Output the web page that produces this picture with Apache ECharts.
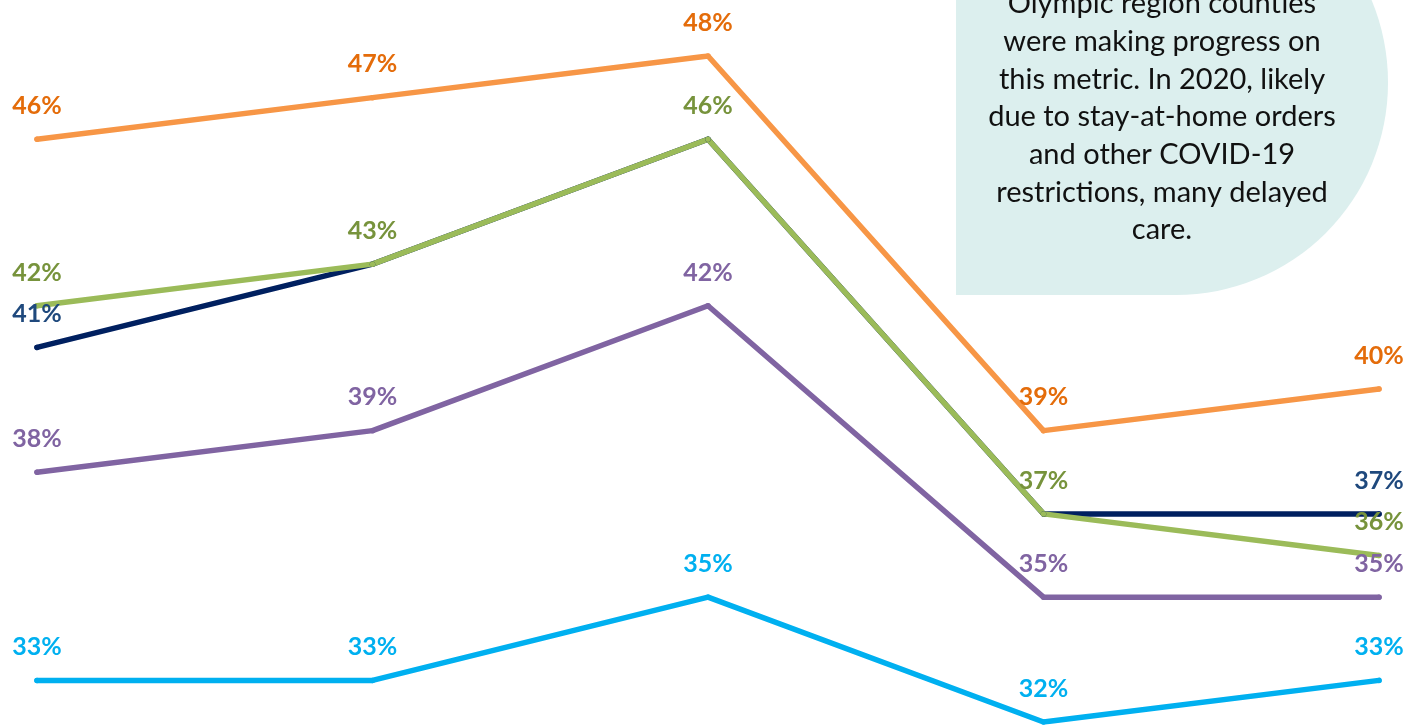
<!DOCTYPE html>
<html>
<head>
<meta charset="utf-8">
<title>Olympic region</title>
<script src="https://cdn.jsdelivr.net/npm/echarts@6/dist/echarts.min.js"></script>
<style>
  html, body { margin: 0; padding: 0; background: #fff; }
  #root { width: 1406px; height: 726px; }
</style>
</head>
<body>
<div id="root"></div>
<script>
// 类目（年份点位，图中未显示）
var years = ['2016', '2017', '2018', '2019', '2020'];

// 各条折线数值（%）
var orangeVals = [46, 47, 48, 39, 40];
var greenVals  = [42, 43, 46, 37, 36];
var navyVals   = [41, 43, 46, 37, 37];
var purpleVals = [38, 39, 42, 35, 35];
var cyanVals   = [33, 33, 35, 32, 33];

// 深蓝线哪些点显示标签（其余被绿线标签覆盖）
var navyLabelled = [true, false, false, false, true];

var noteLines = [
    'Olympic region counties',
    'were making progress on',
    'this metric. In 2020, likely',
    'due to stay-at-home orders',
    'and other COVID-19',
    'restrictions, many delayed',
    'care.'
];

var myChart = echarts.init(document.getElementById('root'));

function makeSeries(name, vals, lineColor, labelColor, shown) {
    var d = [];
    for (var i = 0; i < vals.length; i++) {
        var item = { value: vals[i] };
        if (shown && !shown[i]) item.label = { show: false };
        d.push(item);
    }
    return {
        name: name,
        type: 'line',
        data: d,
        symbol: 'circle',
        symbolSize: 5.5,
        showSymbol: true,
        itemStyle: { color: lineColor },
        lineStyle: { color: lineColor, width: 5.5, cap: 'round', join: 'round' },
        label: {
            show: true,
            position: 'top',
            distance: 18,
            color: labelColor,
            fontFamily: 'Lato',
            fontWeight: 'bold',
            fontSize: 25,
            formatter: function (p) { return p.value + '%'; }
        },
        animation: false,
        z: 3
    };
}

var option = {
    backgroundColor: '#ffffff',
    grid: { left: 37, right: 27, top: 56, bottom: 4 },
    xAxis: {
        type: 'category',
        data: years,
        boundaryGap: false,
        show: false
    },
    yAxis: {
        type: 'value',
        min: 32,
        max: 48,
        show: false
    },
    graphic: [
        {
            type: 'rect',
            z: 0,
            shape: { x: 956, y: -130, width: 432, height: 425, r: [0, 212, 212, 0] },
            style: { fill: '#DCEFEE' }
        },
        {
            type: 'text',
            z: 1,
            x: 1162,
            y: -15,
            style: {
                text: noteLines.join('\n'),
                align: 'center',
                verticalAlign: 'top',
                fill: '#111111',
                font: '29px Lato',
                lineHeight: 37.7
            }
        }
    ],
    series: [
        makeSeries('Orange', orangeVals, '#F79646', '#E46C0A'),
        makeSeries('Navy', navyVals, '#002060', '#1F497D', navyLabelled),
        makeSeries('Green', greenVals, '#9BBB59', '#77933C'),
        makeSeries('Purple', purpleVals, '#8064A2', '#8064A2'),
        makeSeries('Cyan', cyanVals, '#00B0F0', '#00B0F0')
    ]
};

myChart.setOption(option);
</script>
</body>
</html>
